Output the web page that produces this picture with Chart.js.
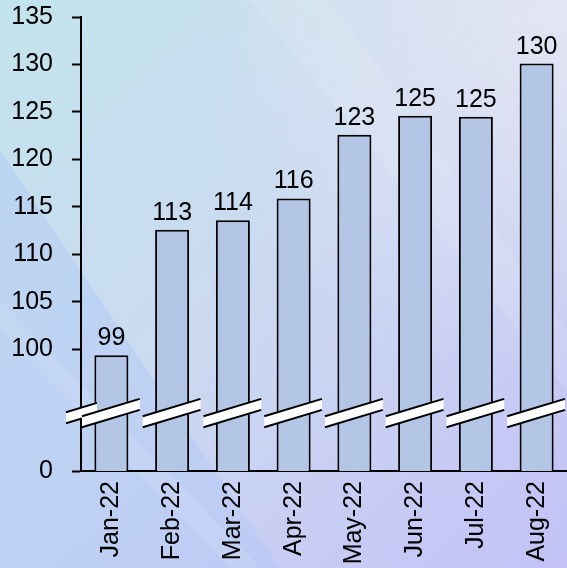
<!DOCTYPE html>
<html>
<head>
<meta charset="utf-8">
<script src="https://cdn.jsdelivr.net/npm/chart.js@4"></script>
<style>
  html, body { margin: 0; padding: 0; }
  canvas { display: block; }
</style>
</head>
<body>
<canvas id="barchart" width="567" height="568"></canvas>
<script>
"use strict";

var months = ['Jan-22', 'Feb-22', 'Mar-22', 'Apr-22', 'May-22', 'Jun-22', 'Jul-22', 'Aug-22'];
var values = [99.4, 112.6, 113.6, 115.9, 122.6, 124.6, 124.5, 130.1];
var yTicks = [100, 105, 110, 115, 120, 125, 130, 135];
var axisFloor = 87.2;   // bottom of the cut axis, labelled 0
var breakAt = 93.3;     // where the axis and bars are cut

var FONT = 'Liberation Sans, Arial, sans-serif';

var background = {
    id: 'background',
    beforeDraw: function (chart) {
        var ctx = chart.ctx, w = chart.width, h = chart.height;
        ctx.save();
        var g = ctx.createLinearGradient(0, 0, w, h);
        g.addColorStop(0, '#c2e4ec');
        g.addColorStop(0.5, '#ccd9f1');
        g.addColorStop(1, '#c3c1f6');
        ctx.fillStyle = g;
        ctx.fillRect(0, 0, w, h);

        var r = ctx.createRadialGradient(w, 0, 0, w, 0, 380);
        r.addColorStop(0, 'rgba(232,232,244,0.85)');
        r.addColorStop(1, 'rgba(232,232,244,0)');
        ctx.fillStyle = r;
        ctx.fillRect(0, 0, w, h);

        // darker blue wedge bottom left
        ctx.fillStyle = 'rgba(176,200,246,0.45)';
        ctx.beginPath();
        ctx.moveTo(0, 150);
        ctx.lineTo(280, h);
        ctx.lineTo(0, h);
        ctx.closePath();
        ctx.fill();

        // soft light streaks
        ctx.fillStyle = 'rgba(255,255,255,0.10)';
        ctx.beginPath();
        ctx.moveTo(0, 300);
        ctx.lineTo(0, 330);
        ctx.lineTo(230, h);
        ctx.lineTo(260, h);
        ctx.closePath();
        ctx.fill();
        ctx.beginPath();
        ctx.moveTo(250, 0);
        ctx.lineTo(330, 0);
        ctx.lineTo(567, 330);
        ctx.lineTo(567, 390);
        ctx.closePath();
        ctx.fill();
        ctx.restore();
    }
};

function drawCut(ctx, left, right, yc) {
    var half = (right - left) * 0.15;
    ctx.beginPath();
    ctx.moveTo(left, yc + half - 5.5);
    ctx.lineTo(right, yc - half - 5.5);
    ctx.lineTo(right, yc - half + 5.5);
    ctx.lineTo(left, yc + half + 5.5);
    ctx.closePath();
    ctx.fillStyle = '#ffffff';
    ctx.fill();
    ctx.strokeStyle = '#000000';
    ctx.lineWidth = 2;
    ctx.beginPath();
    ctx.moveTo(left, yc + half - 5.5);
    ctx.lineTo(right, yc - half - 5.5);
    ctx.moveTo(left, yc + half + 5.5);
    ctx.lineTo(right, yc - half + 5.5);
    ctx.stroke();
}

var barExtras = {
    id: 'barExtras',
    afterDatasetsDraw: function (chart) {
        var ctx = chart.ctx;
        var y = chart.scales.y;
        var yc = y.getPixelForValue(breakAt);
        var step = chart.scales.x.width / months.length;
        ctx.save();
        drawCut(ctx, y.right - 15, y.right + 16, yc);
        var meta = chart.getDatasetMeta(0);
        meta.data.forEach(function (bar, i) {
            drawCut(ctx, bar.x - step / 2 + 1, bar.x + step / 2 - 2, yc);
            ctx.fillStyle = '#000000';
            ctx.font = '25px ' + FONT;
            ctx.textAlign = 'center';
            ctx.textBaseline = 'alphabetic';
            ctx.fillText(Math.round(values[i]), bar.x, bar.y - 10);
        });
        ctx.restore();
    }
};

var ctx = document.getElementById('barchart').getContext('2d');
var myChart = new Chart(ctx, {
    type: 'bar',
    data: {
        labels: months,
        datasets: [{
            data: values,
            backgroundColor: '#b4c6e6',
            borderColor: '#000000',
            borderWidth: 2,
            borderSkipped: false,
            barPercentage: 0.56,
            categoryPercentage: 1
        }]
    },
    options: {
        responsive: false,
        animation: false,
        layout: {
            padding: { left: 12, top: 17, right: 0, bottom: 0 }
        },
        plugins: {
            legend: { display: false },
            tooltip: { enabled: false }
        },
        scales: {
            x: {
                grid: { display: false, drawTicks: false },
                border: { color: '#000000', width: 2 },
                ticks: {
                    color: '#000000',
                    font: { family: FONT, size: 25 },
                    minRotation: 90,
                    maxRotation: 90,
                    autoSkip: false,
                    padding: 10
                },
                afterFit: function (scale) {
                    scale.height = 97;
                    scale.paddingLeft = 0;
                    scale.paddingRight = 0;
                }
            },
            y: {
                min: axisFloor,
                max: 135,
                afterBuildTicks: function (scale) {
                    scale.ticks = [axisFloor].concat(yTicks).map(function (v) {
                        return { value: v };
                    });
                },
                afterFit: function (scale) {
                    scale.width = 69;
                    scale.paddingTop = 0;
                    scale.paddingBottom = 0;
                },
                grid: {
                    drawOnChartArea: false,
                    drawTicks: true,
                    tickLength: 9,
                    tickWidth: 2,
                    color: '#000000'
                },
                border: { color: '#000000', width: 2 },
                ticks: {
                    color: '#000000',
                    font: { family: FONT, size: 25 },
                    padding: 19,
                    callback: function (v) {
                        return v === axisFloor ? '0' : v;
                    }
                }
            }
        }
    },
    plugins: [background, barExtras]
});
</script>
</body>
</html>
